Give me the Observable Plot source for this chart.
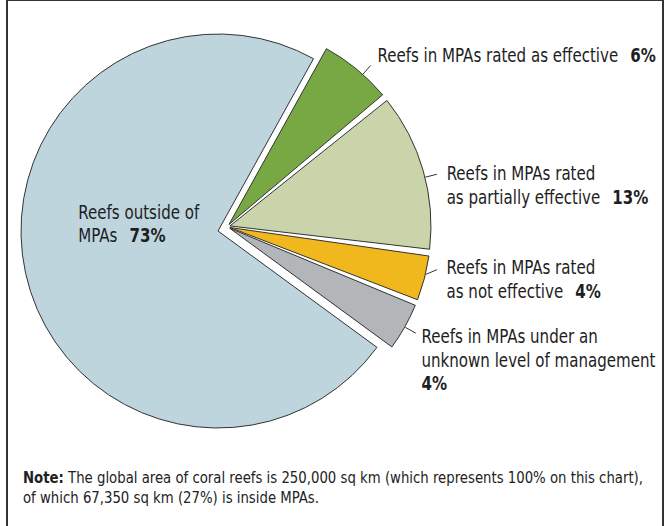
<!DOCTYPE html>
<html><head><meta charset="utf-8">
<script src="https://cdn.jsdelivr.net/npm/d3@7"></script>
<script src="https://cdn.jsdelivr.net/npm/@observablehq/plot@0.6"></script>
<style>
html,body{margin:0;padding:0;background:#fff;}
#wrap{position:relative;width:667px;height:526px;overflow:hidden;font-family:"Liberation Sans Narrow","Arial Narrow","DejaVu Sans Condensed",sans-serif;color:#222;}
#frame{position:absolute;left:6px;top:-1px;height:600px;border:2px solid #333;box-sizing:border-box;width:658px;}
#chart{position:absolute;left:0;top:0;}
#note{position:absolute;left:23px;top:468px;font-size:16px;line-height:20px;color:#222;white-space:nowrap;transform-origin:0 0;}
#note span{display:inline-block;}
</style></head><body>
<div id="wrap"><div id="frame"></div><div id="chart"></div>
<div id="note"><span id="note1"><b>Note:</b> The global area of coral reefs is 250,000 sq km (which represents 100% on this chart),</span><br><span>of which 67,350 sq km (27%) is inside MPAs.</span></div></div>
<script>
// ---- data ----
const categories = [
  "Reefs in MPAs rated as effective",
  "Reefs in MPAs rated as partially effective",
  "Reefs in MPAs rated as not effective",
  "Reefs in MPAs under an unknown level of management",
  "Reefs outside of MPAs"
];
const shares = [6, 13, 4, 4, 73];
const insideMPA = [true, true, true, true, false];
const labelLines = [
  ["Reefs in MPAs rated as effective"],
  ["Reefs in MPAs rated", "as partially effective"],
  ["Reefs in MPAs rated", "as not effective"],
  ["Reefs in MPAs under an", "unknown level of management", ""],
  ["Reefs outside of", "MPAs"]
];
const colors = ["#77a843", "#c9d4aa", "#f0b81d", "#b2b6b9", "#bfd5de"];

// ---- layout ----
const W = 667, H = 460;
const CX = 218, CY = 231, RPX = 197;   // main pie centre / radius (px)
const RSPX = 201;                      // radius of the pulled-out slices (px)
const startDeg = 29;
const groupDist = 10, groupDeg = 65, eachDist = 3;
const padDeg = 1.5;
const leaderLen = 12, textGap = 6;
const leaderAt = [0.6, 0.54, 0.4, 0.5, 0.5];
const leaderDeg = [null, null, 67, null, null];
const nudges = [
  {dx: 0.8, dy: -10.4}, {dx: 3.7, dy: -0.3}, {dx: 3.4, dy: -1.6}, {dx: -0.3, dy: 3.7}, {dx: -1.5, dy: -8.3}
];
const labelFont = '"Liberation Sans Narrow","Arial Narrow","DejaVu Sans Condensed",sans-serif';
const targetLineWidth = 241;   // width of "Reefs in MPAs rated as effective"
const targetNoteWidth = 620;

const rad = d => d * Math.PI / 180;
const dir = a => [Math.sin(a), -Math.cos(a)];

const table = categories.map((c, i) => ({category: c, share: shares[i], mpa: insideMPA[i], color: colors[i], lines: labelLines[i]}));
const arcs = d3.pie().sort(null).value(d => d.share)
  .startAngle(rad(startDeg)).endAngle(rad(startDeg) + 2 * Math.PI)(table);

const G = dir(rad(groupDeg));
const pad = rad(padDeg);
arcs.forEach((a, i) => {
  const prev = arcs[(i + arcs.length - 1) % arcs.length], next = arcs[(i + 1) % arcs.length];
  a.s0 = a.startAngle + (a.data.mpa && prev.data.mpa ? pad / 2 : 0);
  a.s1 = a.endAngle - (a.data.mpa && next.data.mpa ? pad / 2 : 0);
  a.mid = (a.startAngle + a.endAngle) / 2;
  a.r = a.data.mpa ? RSPX / RPX : 1;
  const u = dir(a.mid);
  a.off = a.data.mpa
    ? [(G[0] * groupDist + u[0] * eachDist) / RPX, (G[1] * groupDist + u[1] * eachDist) / RPX]
    : [0, 0];
});

// labels in data units (radius = 1, y up)
const labels = arcs.map((a, i) => {
  const text = a.data.lines.map((l, j, arr) => j === arr.length - 1 ? (l ? l + " " : "") + a.data.share + "%" : l).join("\n");
  if (a.data.mpa) {
    const ang = a.s0 + (a.s1 - a.s0) * leaderAt[i];
    const u = dir(ang);
    const v = leaderDeg[i] == null ? u : dir(rad(leaderDeg[i]));
    const sx = a.off[0] + u[0] * a.r, sy = a.off[1] + u[1] * a.r;
    const ex = sx + v[0] * leaderLen / RPX, ey = sy + v[1] * leaderLen / RPX;
    return {text, x1: sx, y1: -sy, x2: ex, y2: -ey, x: ex, y: -ey, dx: textGap + nudges[i].dx, dy: -10 + nudges[i].dy, leader: true};
  } else {
    const u = dir(a.mid), r = 0.7;
    return {text, x: u[0] * r, y: -u[1] * r, dx: -4 + nudges[i].dx, dy: -50 + nudges[i].dy, leader: false};
  }
});

const pieMark = (index, scales) => {
  const cx = scales.x(0), cy = scales.y(0);
  const R = scales.x(1) - scales.x(0);
  const arc = d3.arc();
  const g = d3.create("svg:g");
  g.selectAll("path").data(arcs).join("path")
    .attr("transform", a => `translate(${cx + a.off[0] * R},${cy + a.off[1] * R})`)
    .attr("d", a => arc({innerRadius: 0, outerRadius: a.r * R, startAngle: a.s0, endAngle: a.s1}))
    .attr("fill", a => a.data.color)
    .attr("stroke", "#333")
    .attr("stroke-width", 1)
    .attr("stroke-linejoin", "miter");
  return g.node();
};

const chart = Plot.plot({
  width: W, height: H,
  margin: 0,
  x: {domain: [-1, 1], range: [CX - RPX, CX + RPX], axis: null},
  y: {domain: [-1, 1], range: [CY + RPX, CY - RPX], axis: null},
  style: {background: "transparent", fontFamily: labelFont},
  marks: [
    pieMark,
    Plot.link(labels.filter(d => d.leader), {x1: "x1", y1: "y1", x2: "x2", y2: "y2", stroke: "#333", strokeWidth: 1}),
    ...labels.map(d => Plot.text([d], {x: "x", y: "y", text: "text", dx: d.dx, dy: d.dy,
      textAnchor: "start", lineAnchor: "top", lineHeight: 1.22, fontSize: 19, fill: "#1e1e1e"}))
  ]
});
document.getElementById("chart").appendChild(chart);

// horizontal condensing factor so the fallback font matches the narrow original
const probe = document.createElementNS("http://www.w3.org/2000/svg", "text");
probe.setAttribute("font-size", "19");
probe.setAttribute("font-family", labelFont);
probe.textContent = labelLines[0][0];
chart.appendChild(probe);
const sx = Math.min(1, targetLineWidth / probe.getComputedTextLength());
probe.remove();

// bold percentages
function boldPct(node) {
  const t = node.textContent;
  const m = t.match(/^(.*?)(\s*)(\d+%)$/);
  if (!m) return;
  node.textContent = m[1];
  const b = document.createElementNS("http://www.w3.org/2000/svg", "tspan");
  b.setAttribute("font-weight", "bold");
  if (m[1]) b.setAttribute("dx", (12 / sx).toFixed(2));
  b.textContent = m[3];
  node.appendChild(b);
}
chart.querySelectorAll("text").forEach(t => {
  const spans = t.querySelectorAll(":scope > tspan");
  if (spans.length) spans.forEach(boldPct); else boldPct(t);
  const tr = t.getAttribute("transform") || "";
  t.setAttribute("transform", `${tr} scale(${sx},1)`);
});

// note condensing
const n1 = document.getElementById("note1");
const ns = Math.min(1, targetNoteWidth / n1.getBoundingClientRect().width);
document.getElementById("note").style.transform = `scaleX(${ns})`;
</script></body></html>
